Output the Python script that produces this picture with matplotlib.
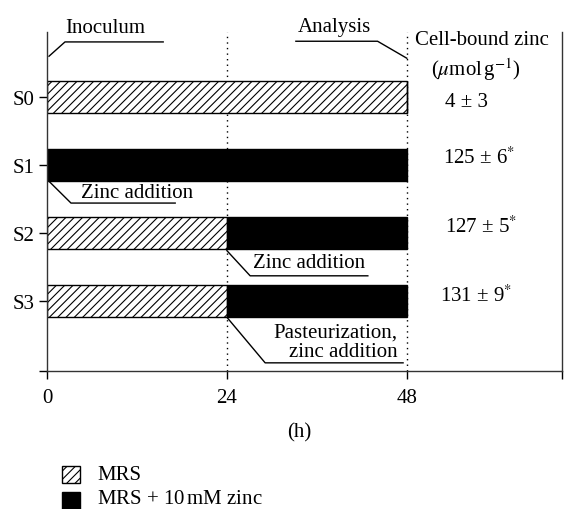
import matplotlib
matplotlib.use("Agg")
import matplotlib.pyplot as plt
from matplotlib.patches import Rectangle

plt.rcParams['font.family'] = ['Liberation Serif', 'DejaVu Serif']
plt.rcParams['mathtext.fontset'] = 'stix'
plt.rcParams['hatch.linewidth'] = 0.8

# ---- data ----
strains = ["S0", "S1", "S2", "S3"]
mrs_hours = [48, 0, 24, 24]          # duration in plain MRS (starts at 0 h)
zinc_hours = [0, 48, 24, 24]         # duration in MRS + 10 mM zinc (after MRS)
zinc_mean = [4, 125, 127, 131]
zinc_sd = [3, 6, 5, 9]
significant = [False, True, True, True]
xticks = [0, 24, 48]

FS = 15
fig = plt.figure(figsize=(5.66, 5.10), dpi=100)
ax = fig.add_axes([47/566, 1-372/510, (562-47)/566, (372-33)/510])

ypos = list(range(len(strains)))
h = 0.46
ax.barh(ypos, mrs_hours, left=0, height=h, color='white', edgecolor='black',
        hatch='////', linewidth=1.0)
ax.barh(ypos, zinc_hours, left=mrs_hours, height=h, color='black',
        edgecolor='black', linewidth=1.0)

ax.set_xlim(0, 68.7)
ax.set_ylim(4.03, -0.956)

# dotted guide lines
for xv in [24, 48]:
    ax.axvline(xv, color='black', lw=1.0, linestyle=(0, (1, 3)), zorder=0)

ax.spines['top'].set_visible(False)
for s in ['left', 'bottom', 'right']:
    ax.spines[s].set_linewidth(1.0)
    ax.spines[s].set_color('#333333')

ax.set_yticks(ypos)
ax.set_yticklabels(strains, fontsize=FS)
ax.set_yticks([4.03], minor=True)
ax.set_xticks(xticks)
ax.set_xticklabels([str(t) for t in xticks], fontsize=FS)
ax.set_xticks([68.7], minor=True)
ax.tick_params(axis='y', which='both', direction='out', length=6, width=1.0, pad=3)
ax.tick_params(axis='x', which='both', direction='out', length=6, width=1.0, pad=6)

ax.text(0.489, -0.18, "(h)", transform=ax.transAxes, ha='center', va='center',
        fontsize=FS)

# annotations with leader lines
def leader(xs, ys):
    ax.plot(xs, ys, color='black', lw=1.0, clip_on=False)

leader([0.27, 2.4, 15.5], [-0.60, -0.81, -0.81])
ax.text(2.4, -0.88, "Inoculum", ha='left', va='bottom', fontsize=FS, clip_on=False)

leader([33.2, 44.1, 48.0], [-0.82, -0.82, -0.57])
ax.text(33.5, -0.89, "Analysis", ha='left', va='bottom', fontsize=FS, clip_on=False)

leader([0.27, 3.2, 17.1], [1.24, 1.56, 1.56])
ax.text(4.5, 1.41, "Zinc addition", ha='left', va='center', fontsize=FS)

leader([24.0, 27.1, 42.8], [2.26, 2.63, 2.63])
ax.text(27.5, 2.43, "Zinc addition", ha='left', va='center', fontsize=FS)

leader([24.0, 29.1, 47.5], [3.24, 3.91, 3.91])
ax.text(46.8, 3.60, "Pasteurization,\nzinc addition", ha='right', va='center',
        multialignment='right', fontsize=FS, linespacing=1.0)

# cell-bound zinc column
ax.text(58.0, -0.85, "Cell-bound zinc", ha='center', va='center', fontsize=FS,
        clip_on=False)
ax.text(57.2, -0.41, r"($\mu$mol$\,$g$^{-1}$)", ha='center', va='center',
        fontsize=FS)
val_x = [56.0, 57.6, 57.9, 57.2]
val_off = [0.06, -0.12, -0.10, -0.08]
for i, (m, sd, sig) in enumerate(zip(zinc_mean, zinc_sd, significant)):
    lab = f"{m} ± {sd}" + (r"$^{\mathrm{*}}$" if sig else "")
    ax.text(val_x[i], i + val_off[i], lab, ha='center', va='center', fontsize=FS)

# legend (manual)
fig.add_artist(Rectangle((62/566, 1-484/510), 18/566, 17/510,
                         transform=fig.transFigure, facecolor='white',
                         edgecolor='black', hatch='////', lw=1.0))
fig.add_artist(Rectangle((62/566, 1-510/510), 18/566, 17/510,
                         transform=fig.transFigure, facecolor='black',
                         edgecolor='black', lw=1.0))
fig.text(97/566, 1-476/510, "MRS", ha='left', va='center', fontsize=15)
fig.text(97/566, 1-500/510, "MRS + 10$\\,$mM zinc", ha='left', va='center', fontsize=15)

fig.savefig("out.png", dpi=100)
